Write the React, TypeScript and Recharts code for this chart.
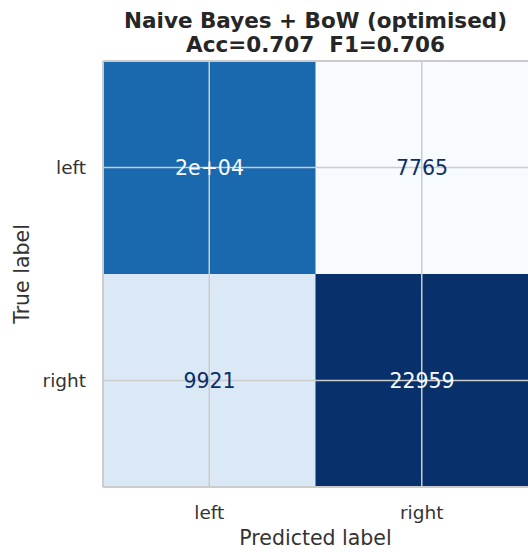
import { BarChart, Bar, Cell, XAxis, YAxis, ReferenceLine, LabelList } from "recharts";

const predictedLabels = ["left", "right"];
// rows = true label (left, right), columns = predicted label (left, right)
const trueLeftCounts = [19717, 7765];
const trueRightCounts = [9921, 22959];

const blues = ["#f7fbff", "#deebf7", "#c6dbef", "#9ecae1", "#6baed6", "#4292c6", "#2171b5", "#08519c", "#08306b"];

const allCounts = [...trueLeftCounts, ...trueRightCounts];
const vmin = Math.min(...allCounts);
const vmax = Math.max(...allCounts);

function hexToRgb(h: string) {
  const n = parseInt(h.slice(1), 16);
  return [(n >> 16) & 255, (n >> 8) & 255, n & 255];
}

function bluesColor(v: number) {
  const t = Math.max(0, Math.min(1, (v - vmin) / (vmax - vmin)));
  const pos = t * (blues.length - 1);
  const i = Math.min(Math.floor(pos), blues.length - 2);
  const f = pos - i;
  const a = hexToRgb(blues[i]);
  const b = hexToRgb(blues[i + 1]);
  const c = a.map((x, k) => Math.round(x + (b[k] - x) * f));
  return `rgb(${c[0]},${c[1]},${c[2]})`;
}

function textColor(v: number) {
  return v < (vmin + vmax) / 2 ? "#08306b" : "#f7fbff";
}

// matplotlib style: ".2g" unless plain integer is shorter
function fmtCount(v: number) {
  const [m, e] = v.toExponential(1).split("e");
  const exp = parseInt(e, 10);
  const g = `${parseFloat(m)}e${exp < 0 ? "-" : "+"}${String(Math.abs(exp)).padStart(2, "0")}`;
  const d = String(v);
  return d.length < g.length ? d : g;
}

const data = predictedLabels.map((p, i) => ({
  pred: p,
  rowRight: 1,
  rowLeft: 1,
  rightCount: trueRightCounts[i],
  leftCount: trueLeftCounts[i],
}));

const font = "'DejaVu Sans', sans-serif";

const renderCount = (props: any) => {
  const { x, y, width, height, value } = props;
  return (
    <text
      x={x + width / 2}
      y={y + height / 2}
      textAnchor="middle"
      dominantBaseline="central"
      fontSize={20.5}
      fontFamily={font}
      fill={textColor(value)}
    >
      {fmtCount(value)}
    </text>
  );
};

export default function App() {
  return (
    <div style={{ position: "absolute", left: 0, top: 0, width: 528, height: 552, background: "#fff", fontFamily: font }}>
      <div
        style={{
          position: "absolute",
          left: 103,
          width: 425,
          top: 9,
          textAlign: "center",
          fontWeight: "bold",
          fontSize: 21.5,
          lineHeight: "24px",
          color: "#262626",
          whiteSpace: "nowrap",
        }}
      >
        Naive Bayes + BoW (optimised)
        <br />
        Acc=0.707&nbsp;&nbsp;F1=0.706
      </div>
      <BarChart width={528} height={552} data={data} barCategoryGap={0} margin={{ top: 61, right: 0, bottom: 0, left: 0 }}>
        <XAxis
          dataKey="pred"
          height={65}
          tickLine={false}
          axisLine={{ stroke: "#cccccc", strokeWidth: 2 }}
          tick={{ fill: "#333333", fontSize: 18.5, fontFamily: font }}
          tickMargin={13}
          label={{ value: "Predicted label", position: "insideBottom", offset: 7, fill: "#333333", fontSize: 20.5, fontFamily: font }}
        />
        <YAxis
          type="number"
          domain={[0, 2]}
          ticks={[0.5, 1.5]}
          tickFormatter={(v: number) => (v > 1 ? "left" : "right")}
          width={103}
          tickLine={false}
          axisLine={{ stroke: "#cccccc", strokeWidth: 2 }}
          tick={{ fill: "#333333", fontSize: 18.5, fontFamily: font }}
          tickMargin={11}
          label={{ value: "True label", angle: -90, position: "insideLeft", offset: 22, fill: "#333333", fontSize: 20.5, fontFamily: font, style: { textAnchor: "middle" } }}
        />
        <Bar dataKey="rowRight" stackId="cm" isAnimationActive={false}>
          {data.map((d) => (
            <Cell key={d.pred} fill={bluesColor(d.rightCount)} />
          ))}
          <LabelList dataKey="rightCount" content={renderCount} />
        </Bar>
        <Bar dataKey="rowLeft" stackId="cm" isAnimationActive={false}>
          {data.map((d) => (
            <Cell key={d.pred} fill={bluesColor(d.leftCount)} />
          ))}
          <LabelList dataKey="leftCount" content={renderCount} />
        </Bar>
        <ReferenceLine x="left" stroke="#cccccc" strokeWidth={1.5} />
        <ReferenceLine x="right" stroke="#cccccc" strokeWidth={1.5} />
        <ReferenceLine y={0.5} stroke="#cccccc" strokeWidth={1.5} />
        <ReferenceLine y={1.5} stroke="#cccccc" strokeWidth={1.5} />
        <ReferenceLine y={2} stroke="#cccccc" strokeWidth={2} />
      </BarChart>
    </div>
  );
}
